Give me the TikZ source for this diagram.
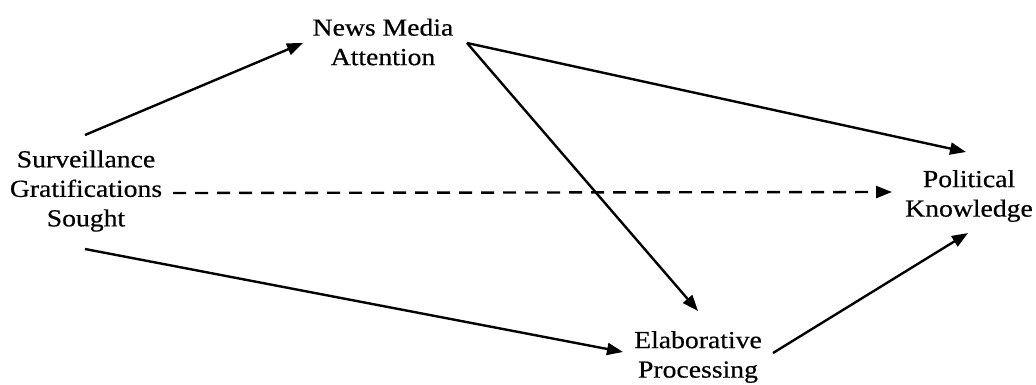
\documentclass[tikz,border=0pt]{standalone}
\usepackage{fontspec}
\setmainfont{Liberation Serif}[FakeStretch=1.13,FakeBold=0.5]
\usetikzlibrary{arrows.meta}
\tikzset{
  lbl/.style={align=center, inner sep=0pt, font=\fontsize{24.5}{29.5}\selectfont},
  conn/.style={line width=2.4pt, -{Triangle[length=16pt,width=12pt]}},
  dashconn/.style={conn, dash pattern=on 13pt off 9pt}
}
\begin{document}
\begin{tikzpicture}[x=1pt,y=-1pt]
\useasboundingbox (0,0) rectangle (1036,385);
\node[lbl] (sgs) at (86,191) {Surveillance\\Gratifications\\Sought};
\node[lbl] (nma) at (383,42) {News Media\\Attention};
\node[lbl] (pk) at (969,196) {Political\\Knowledge};
\node[lbl] (ep) at (698,357) {Elaborative\\Processing};
\draw[conn] ([shift={(-1,-56)}]sgs.center) -- ([shift={(-80,1)}]nma.center);
\draw[conn] ([shift={(84,1)}]nma.center) -- ([shift={(-3,-44)}]pk.center);
\draw[conn] ([shift={(84,1)}]nma.center) -- ([shift={(0,-46)}]ep.center);
\draw[dashconn] ([shift={(87,2)}]sgs.center) -- ([shift={(-77,-4)}]pk.center);
\draw[conn] ([shift={(-1,58)}]sgs.center) -- ([shift={(-75,-5)}]ep.center);
\draw[conn] ([shift={(75,-4)}]ep.center) -- ([shift={(-1,37)}]pk.center);
\end{tikzpicture}
\end{document}
